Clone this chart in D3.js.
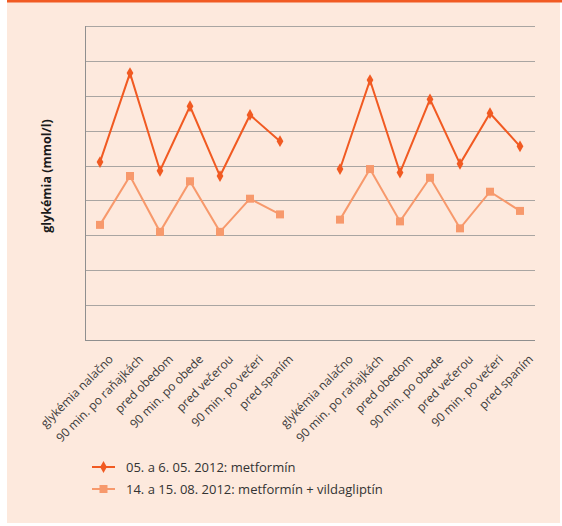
<!DOCTYPE html>
<meta charset="utf-8">
<style>
  body { margin: 0; background: #fff; }
  .grid line { stroke: #a9a5a2; stroke-width: 1px; }
  .line { fill: none; stroke-width: 2px; }
  text { font-family: "Open Sans", Lato, sans-serif; }
</style>
<body>
<script src="https://cdn.jsdelivr.net/npm/d3@7"></script>
<script>

  var categories = ["glykémia nalačno", "90 min. po raňajkách", "pred obedom", "90 min. po obede",
    "pred večerou", "90 min. po večeri", "pred spaním", "",
    "glykémia nalačno ", "90 min. po raňajkách ", "pred obedom ", "90 min. po obede ",
    "pred večerou ", "90 min. po večeri ", "pred spaním "];

  var labels = ["glykémia nalačno", "90 min. po raňajkách", "pred obedom", "90 min. po obede",
    "pred večerou", "90 min. po večeri", "pred spaním", "",
    "glykémia nalačno", "90 min. po raňajkách", "pred obedom", "90 min. po obede",
    "pred večerou", "90 min. po večeri", "pred spaním"];

  // two days each, second block starts after the blank category
  var metformin = [10.2, 15.3, 9.7, 13.4, 9.4, 12.9, 11.4, null, 9.8, 14.9, 9.6, 13.8, 10.1, 13.0, 11.1];
  var vildagliptin = [6.6, 9.4, 6.2, 9.1, 6.2, 8.1, 7.2, null, 6.9, 9.8, 6.8, 9.3, 6.4, 8.5, 7.4];

  var seriesNames = ["05. a 6. 05. 2012: metformín", "14. a 15. 08. 2012: metformín + vildagliptín"];
  var yTicks = [0, 2, 4, 6, 8, 10, 12, 14, 16, 18];

  var W = 562, H = 526;
  var margin = { top: 26, right: 27, bottom: 186, left: 85 },
    width = W - margin.left - margin.right,
    height = H - margin.top - margin.bottom;

  var svg = d3.select("body").append("svg")
    .attr("width", W)
    .attr("height", H);

  // cream panel with orange top rule
  svg.append("rect").attr("x", 7).attr("y", 0).attr("width", 553).attr("height", 523).attr("fill", "#fde9dd");
  svg.append("rect").attr("x", 7).attr("y", 0).attr("width", 555).attr("height", 2.5).attr("fill", "#f15a22");

  var g = svg.append("g").attr("transform", "translate(" + margin.left + "," + margin.top + ")");

  var x = d3.scaleBand().domain(categories).range([0, width]);
  var y = d3.scaleLinear().domain([0, 18]).range([height, 0]);

  g.append("g").attr("class", "grid")
    .selectAll("line").data(yTicks).enter().append("line")
    .attr("x1", 0).attr("x2", width)
    .attr("y1", d => Math.round(y(d)) + 0.5).attr("y2", d => Math.round(y(d)) + 0.5);

  // axes
  g.append("line").attr("x1", 0.5).attr("x2", 0.5).attr("y1", 0).attr("y2", height)
    .attr("stroke", "#8f8f8f");
  g.append("line").attr("x1", 0).attr("x2", width).attr("y1", Math.round(height) + 0.5).attr("y2", Math.round(height) + 0.5)
    .attr("stroke", "#8f8f8f");

  // category labels
  g.append("g").selectAll("text").data(categories).enter().append("text")
    .attr("transform", d => "translate(" + (x(d) + x.bandwidth() / 2 + 8) + "," + (height + 14) + ") rotate(-45)")
    .attr("text-anchor", "end")
    .attr("dy", "0.7em")
    .attr("font-size", 12)
    .attr("fill", "#3a3a3a")
    .text((d, i) => labels[i]);

  // y title
  svg.append("text")
    .attr("transform", "translate(51,176) rotate(-90)")
    .attr("text-anchor", "middle")
    .attr("font-size", 12.5)
    .attr("font-weight", "bold")
    .attr("fill", "#1a1a1a")
    .text("glykémia (mmol/l)");

  var cx = i => x(categories[i]) + x.bandwidth() / 2;
  var line = d3.line().defined(d => d != null).x((d, i) => cx(i)).y(d => y(d));

  var colors = ["#f15a22", "#f7996c"];

  g.append("path").datum(vildagliptin).attr("class", "line").attr("stroke", colors[1]).attr("d", line);
  g.append("path").datum(metformin).attr("class", "line").attr("stroke", colors[0]).attr("d", line);

  var sq = d3.symbol().type(d3.symbolSquare).size(64);
  var dia = d3.symbol().type(d3.symbolDiamond).size(40);

  function markers(values, shape, color) {
    g.append("g").selectAll("path")
      .data(values.map((v, i) => ({ v: v, i: i })).filter(d => d.v != null))
      .enter().append("path")
      .attr("d", shape)
      .attr("fill", color)
      .attr("transform", d => "translate(" + cx(d.i) + "," + y(d.v) + ")");
  }
  markers(vildagliptin, sq, colors[1]);
  markers(metformin, dia, colors[0]);

  // legend
  var legend = svg.append("g").attr("transform", "translate(92,467)");
  seriesNames.forEach((name, i) => {
    var row = legend.append("g").attr("transform", "translate(0," + i * 22 + ")");
    row.append("line").attr("x1", 0).attr("x2", 23).attr("y1", 0).attr("y2", 0)
      .attr("stroke", colors[i]).attr("stroke-width", 2);
    row.append("path").attr("d", i === 0 ? dia : sq).attr("fill", colors[i])
      .attr("transform", "translate(11.5,0)");
    row.append("text").attr("x", 34).attr("y", 4.5)
      .attr("font-size", 13).attr("fill", "#333")
      .text(name);
  });
</script>
</body>
